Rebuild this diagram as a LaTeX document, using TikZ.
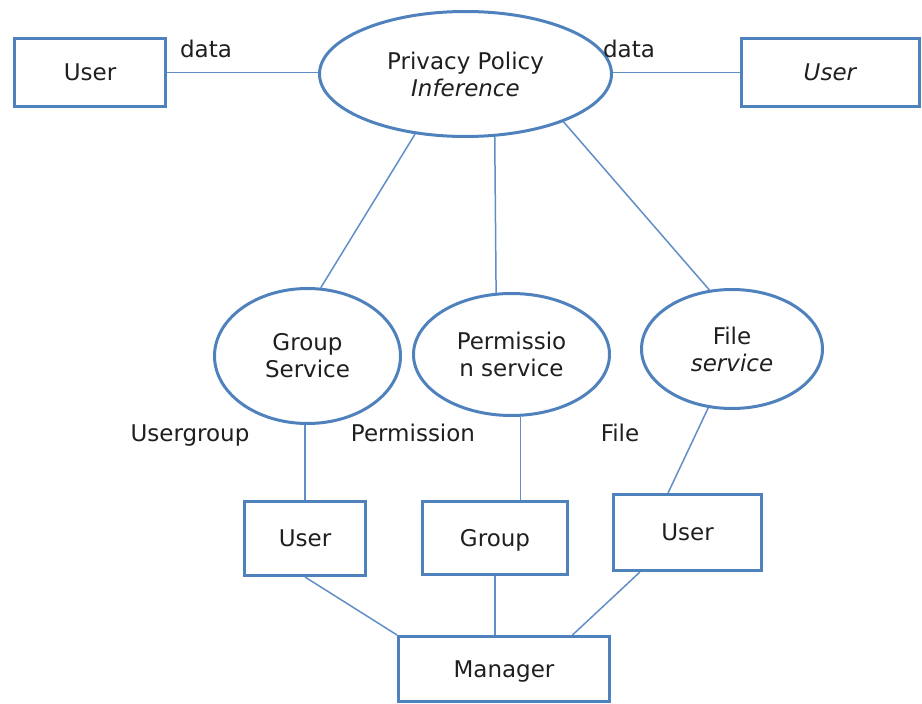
\documentclass[tikz,border=0pt]{standalone}
\usepackage{fontspec}
\setmainfont{DejaVu Sans}
\usetikzlibrary{shapes.geometric,calc}
\definecolor{edgeblue}{RGB}{79,129,189}
\definecolor{linkblue}{RGB}{98,142,200}
\tikzset{
  lbl/.style={font=\fontsize{23}{27}\selectfont, text=black!88},
  entity/.style={lbl, draw=edgeblue, line width=3pt, rectangle, inner sep=0pt,
                 text height=16.8pt, text depth=0pt},
  service/.style={lbl, draw=edgeblue, line width=3pt, ellipse, inner sep=0pt, align=center},
  conn/.style={draw=linkblue, line width=1.5pt},
  tag/.style={lbl, anchor=base}
}
\begin{document}
\begin{tikzpicture}[x=1pt,y=-1pt]
\useasboundingbox (0,0) rectangle (922,704);

% top row
\node[service, minimum width=292pt, minimum height=125pt] (pp) at (465.5,74) {Privacy Policy\\\textit{Inference}};
\node[entity, minimum width=151pt, minimum height=68pt] (lu) at (90,72.5) {User};
\node[entity, minimum width=178pt, minimum height=68pt] (ru) at (830.5,72.5) {\textit{User}};

% services
\node[service, minimum width=186pt, minimum height=135pt] (gs) at (307.5,356) {Group\\Service};
\node[service, minimum width=196pt, minimum height=122pt] (ps) at (511.5,354.5) {Permissio\\n service};
\node[service, minimum width=181pt, minimum height=119pt] (fs) at (732,349) {File\\\textit{service}};

% entities below the services
\node[entity, minimum width=121pt, minimum height=74pt] (u1) at (305,538.5) {User};
\node[entity, minimum width=145pt, minimum height=73pt] (grp) at (495,538) {Group};
\node[entity, minimum width=148pt, minimum height=76pt] (u3) at (687.5,532.5) {User};
\node[entity, minimum width=211pt, minimum height=65pt] (mgr) at (504,669) {Manager};

% edge labels
\node[tag] (d1) at (206,57) {data};
\node[tag] (d2) at (629,57) {data};
\node[tag] (l1) at (190,441) {Usergroup};
\node[tag] (l2) at (413,441) {Permission};
\node[tag] (l3) at (620,441) {File};

% connectors
\draw[conn] (lu.east) -- (lu.east -| pp.west);
\draw[conn] (ru.west) -- (ru.west -| pp.east);
\draw[conn] (pp.230) -- (gs.79);
\draw[conn] (pp.295) -- (ps.104.5);
\draw[conn] (pp.334) -- (fs.111.5);
\draw[conn] (gs.268) -- (gs.268 |- u1.north);
\draw[conn] (ps.278) -- (ps.278 |- grp.north);
\draw[conn] (fs.248.5) -- ($(u3.north west)!0.371!(u3.north east)$);
\draw[conn] (u1.south) -- (mgr.north west);
\draw[conn] (grp.south) -- (grp.south |- mgr.north);
\draw[conn] ($(u3.south west)!0.185!(u3.south east)$) -- ($(mgr.north west)!0.82!(mgr.north east)$);
\end{tikzpicture}
\end{document}
